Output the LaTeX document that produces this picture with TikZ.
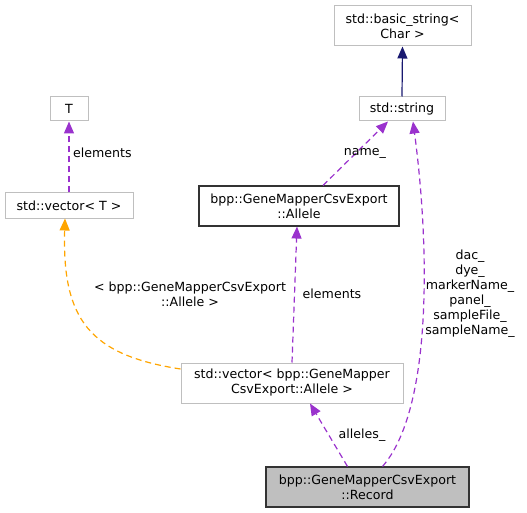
\documentclass[tikz,border=0pt]{standalone}
\usepackage{fontspec}
\setmainfont{DejaVu Sans}
\usetikzlibrary{arrows.meta,calc}
\definecolor{dpurple}{HTML}{9A32CD}
\definecolor{dorange}{HTML}{FFA500}
\definecolor{dblue}{HTML}{191970}
\definecolor{dgray}{HTML}{BFBFBF}
\begin{document}
\begin{tikzpicture}[x=1pt,y=-1pt,
  every node/.style={font=\fontsize{12.6}{15}\selectfont, text=black, inner sep=0pt, align=center},
  cls/.style={draw=dgray, line width=1pt, rectangle},
  doc/.style={draw=black!80, line width=1.1pt, rectangle},
  usage/.style={draw=dpurple, line width=1.2pt, dash pattern=on 6pt off 4pt, -{Triangle[length=12pt,width=10pt]}, color=dpurple},
  templ/.style={draw=dorange, line width=1.2pt, dash pattern=on 6pt off 4pt, -{Triangle[length=12pt,width=10pt]}, color=dorange},
  inh/.style={draw=dblue!70, line width=1.2pt, -{Triangle[length=12pt,width=10pt,fill=dblue]}, color=dblue},
  lbl/.style={font=\fontsize{12.6}{15}\selectfont}]
\useasboundingbox (0,0) rectangle (527,513);
\node[cls, minimum width=137pt, minimum height=40pt] (bs) at (402.5,26) {std::basic\_string<\\Char >};
\node[cls, minimum width=86pt, minimum height=24pt] (str) at (402,109) {std::string};
\node[cls, minimum width=38pt, minimum height=24pt] (T) at (69,109) {T};
\node[cls, minimum width=128pt, minimum height=25pt] (vecT) at (69,205.5) {std::vector< T >};
\node[doc, minimum width=200pt, minimum height=40pt] (allele) at (299,206) {bpp::GeneMapperCsvExport\\::Allele};
\node[cls, minimum width=222pt, minimum height=40pt] (vecA) at (292,383) {std::vector< bpp::GeneMapper\\CsvExport::Allele >};
\node[doc, fill=dgray, minimum width=203pt, minimum height=40pt] (rec) at (367.5,487) {bpp::GeneMapperCsvExport\\::Record};
% edges
\draw[inh] (str.north) -- (bs.south);
\draw[usage] (vecT.north) -- (T.south);
\node[lbl, anchor=west] (lelem1) at (73,153) {elements};
\draw[usage] ($(allele.north)+(24,0)$) -- ($(str.south)+(-14,0)$);
\node[lbl] (lname) at (365,153) {name\_};
\draw[usage] ($(rec.north)+(15,0)$) .. controls (432,410) and (430,250) .. ($(str.south)+(11,0)$);
\node[lbl] (lmulti) at (470,294) {dac\_\\dye\_\\markerName\_\\panel\_\\sampleFile\_\\sampleName\_};
\draw[usage] (vecA.north) -- ($(allele.south)+(-2,0)$);
\node[lbl] (lelem2) at (332,294) {elements};
\draw[templ] ($(vecA.west)+(0,-14)$) .. controls (90,355) and (62,320) .. ($(vecT.south)+(-4,0)$);
\node[lbl] (ltempl) at (190,294) {< bpp::GeneMapperCsvExport\\::Allele >};
\draw[usage] ($(rec.north)+(-20,0)$) -- ($(vecA.south)+(18,0)$);
\node[lbl] (lall) at (362,435) {alleles\_};
\end{tikzpicture}
\end{document}
